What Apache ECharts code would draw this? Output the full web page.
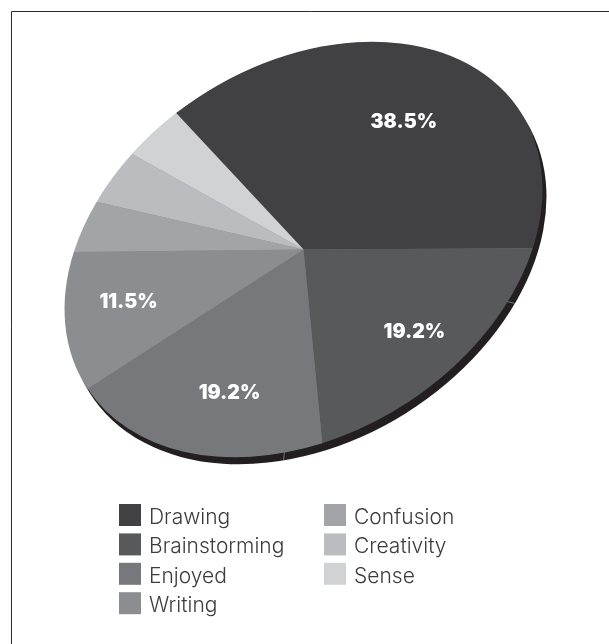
<!DOCTYPE html>
<html>
<head>
<meta charset="utf-8">
<style>
  html, body { margin: 0; padding: 0; background: #fff; }
  #chart { width: 609px; height: 644px; }
</style>
<script src="https://cdn.jsdelivr.net/npm/echarts@6/dist/echarts.min.js"></script>
</head>
<body>
<div id="chart"></div>
<script>
// Survey responses, in percent, clockwise from the largest slice
const categories = ['Drawing', 'Brainstorming', 'Enjoyed', 'Writing', 'Confusion', 'Creativity', 'Sense'];
const shares = [38.5, 19.2, 19.2, 11.5, 3.9, 3.9, 3.8];
const sliceColors = ['#414042', '#58595b', '#77787b', '#8c8d90', '#a3a4a7', '#bbbcbf', '#d1d2d4'];
const leftLegend = ['Drawing', 'Brainstorming', 'Enjoyed', 'Writing'];
const rightLegend = ['Confusion', 'Creativity', 'Sense'];
const labelShown = [true, true, true, true, false, false, false];
// Where each value label sits inside the unsquashed pie
const labelAngleDeg = [332.8, 73.9, 140.9, 201.4];
const labelReach = [0.673, 0.717, 0.69, 0.733];

// The pie is a circle of radius R squashed into a tilted ellipse
const R = 100;
const deg = Math.PI / 180;
const tilt = { x: 303.5, y: 249.5, semiMajor: 257, semiMinor: 185, angle: 32 * deg };
const firstAngle = 262 * deg;
const edgeOffset = { x: 4, y: 7 };
const edgeJoints = [54 * deg, 120 * deg];

const tiltTransform = (dx, dy) => ({
  x: tilt.x + dx,
  y: tilt.y + dy,
  rotation: tilt.angle,
  scaleX: tilt.semiMajor / R,
  scaleY: tilt.semiMinor / R
});

function sliceAngles(i) {
  const total = shares.reduce((a, b) => a + b, 0);
  const before = shares.slice(0, i).reduce((a, b) => a + b, 0);
  const start = firstAngle + before / total * 2 * Math.PI;
  return [start, start + shares[i] / total * 2 * Math.PI];
}

// Maps a point of the unsquashed pie to page coordinates
function toPage(angle, reach) {
  const u = Math.cos(angle) * reach * tilt.semiMajor;
  const v = Math.sin(angle) * reach * tilt.semiMinor;
  const c = Math.cos(tilt.angle), s = Math.sin(tilt.angle);
  return [tilt.x + u * c + v * s, tilt.y - u * s + v * c];
}

const edgeSeries = {
  type: 'custom',
  name: 'edge',
  coordinateSystem: 'none',
  silent: true,
  z: 1,
  data: [[0]],
  renderItem: () => ({
    type: 'group',
    ...tiltTransform(edgeOffset.x, edgeOffset.y),
    children: [
      { type: 'circle', shape: { cx: 0, cy: 0, r: R }, style: { fill: '#231f20' } },
      ...edgeJoints.map(a => ({
        type: 'line',
        shape: { x1: 0, y1: 0, x2: R * Math.cos(a), y2: R * Math.sin(a) },
        style: { stroke: '#8a8a8a', lineWidth: 0.7, strokeNoScale: true }
      }))
    ]
  })
};

const baseSeries = {
  type: 'custom',
  name: 'base',
  coordinateSystem: 'none',
  silent: true,
  z: 2,
  data: [[0]],
  renderItem: () => ({
    type: 'group',
    ...tiltTransform(0, 0),
    children: [{ type: 'circle', shape: { cx: 0, cy: 0, r: R - 0.3 }, style: { fill: '#77787b' } }]
  })
};

const sliceSeries = categories.map((name, i) => ({
  type: 'custom',
  name,
  coordinateSystem: 'none',
  silent: true,
  z: 3,
  itemStyle: { color: sliceColors[i] },
  data: [[shares[i]]],
  renderItem: () => {
    const [startAngle, endAngle] = sliceAngles(i);
    const children = [{
      type: 'group',
      ...tiltTransform(0, 0),
      children: [{
        type: 'sector',
        shape: { cx: 0, cy: 0, r0: 0, r: R, startAngle, endAngle, clockwise: true },
        style: { fill: sliceColors[i] }
      }]
    }];
    if (labelShown[i]) {
      const [lx, ly] = toPage(labelAngleDeg[i] * deg, labelReach[i]);
      children.push({
        type: 'text',
        x: lx,
        y: ly + 2,
        z2: 10,
        style: {
          text: shares[i].toFixed(1) + '%',
          fill: '#ffffff',
          font: '900 19.5px Inter, "Open Sans", sans-serif',
          align: 'center',
          verticalAlign: 'middle'
        }
      });
    }
    return { type: 'group', children };
  }
}));

const legendFont = { color: '#3c3c3e', fontFamily: 'Inter, Roboto, sans-serif', fontWeight: 300, fontSize: 21 };
const legendStyle = {
  orient: 'vertical',
  icon: 'rect',
  itemWidth: 22,
  itemHeight: 22,
  itemGap: 5.4,
  selectedMode: false,
  padding: 0,
  formatter: '{t|{name}}',
  textStyle: {
    ...legendFont,
    rich: { t: { ...legendFont, padding: [5, 0, 0, 3] } }
  }
};

const chart = echarts.init(document.getElementById('chart'), null, { renderer: 'canvas' });
chart.setOption({
  animation: false,
  backgroundColor: '#ffffff',
  tooltip: { show: false },
  legend: [
    { ...legendStyle, data: leftLegend, left: 119, top: 504 },
    { ...legendStyle, data: rightLegend, left: 324, top: 504 }
  ],
  graphic: [
    { type: 'line', silent: true, shape: { x1: 11.5, y1: 11.5, x2: 609, y2: 11.5 }, style: { stroke: '#2b2829', lineWidth: 1 } },
    { type: 'line', silent: true, shape: { x1: 11.5, y1: 11.5, x2: 11.5, y2: 644 }, style: { stroke: '#2b2829', lineWidth: 1 } }
  ],
  series: [edgeSeries, baseSeries, ...sliceSeries]
});
</script>
</body>
</html>
